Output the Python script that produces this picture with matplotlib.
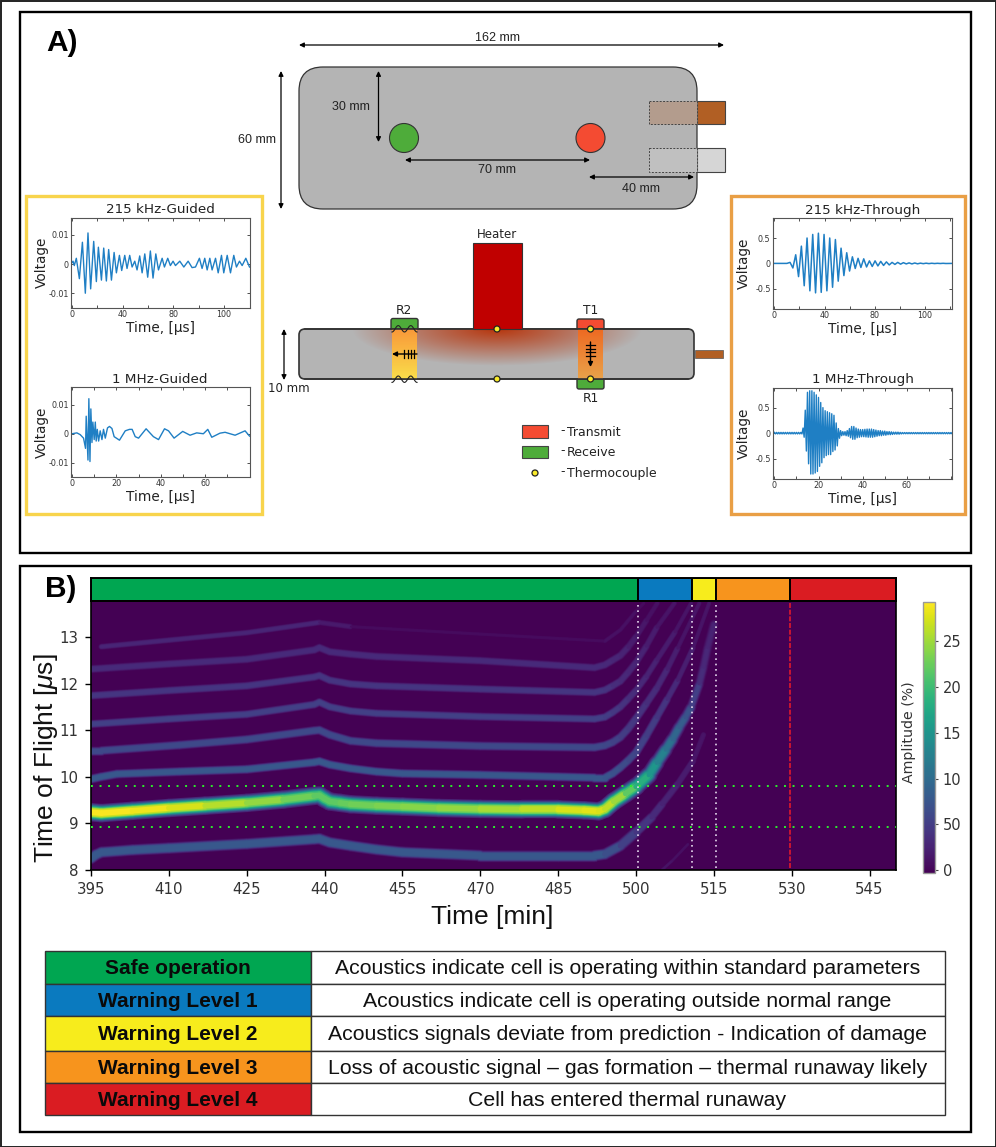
import numpy as np
import matplotlib
matplotlib.use('Agg')
import matplotlib.pyplot as plt
from matplotlib.collections import LineCollection
from matplotlib.patches import Rectangle, FancyBboxPatch, Circle
from matplotlib.colors import Normalize
from matplotlib.cm import ScalarMappable

W, H = 996, 1147
plt.rcParams['mathtext.fontset'] = 'custom'
plt.rcParams['mathtext.rm'] = 'Liberation Sans'
plt.rcParams['mathtext.it'] = 'Liberation Sans:italic'
ARIAL = 'Liberation Sans'
DJ = 'DejaVu Sans'

# ---------- waveform data ----------
g215_t = [0,0.8,1.8,3.4,5.8,8.2,10.5,12.6,14.7,17.1,19.2,20.8,23.2,25,27.1,28.9,31.1,33.2,35,37.4,39.2,41.6,43.4,45.5,47.4,49.5,51.3,53.4,55.3,57.4,59.7,61.8,63.9,66.1,68.2,71.1,72.9,75.5,77.6,79.7,81.6,85,88.2,91.6,94.7,97.4,100.5,102.6,104.7,106.6,108.7,110.5,113.2,115.3,117.9,119.7,122.4,125,127.6,129.7,132.1,134.2,137.1,140]
g215_v = [.0005,.001,-.0005,.002,-.005,.0075,-.010,.0107,-.0085,.0078,-.006,.0058,-.0055,.0055,-.0058,.005,-.0055,.004,-.003,.003,-.0022,.003,-.0015,.003,-.001,.001,-.002,.0028,-.003,.0035,-.0045,.0045,-.0048,.0035,-.002,.002,-.001,.002,-.0005,.001,-.0005,.001,-.001,.001,-.0012,-.001,.002,-.0015,.002,-.002,.002,-.002,.002,-.003,.003,-.003,.003,-.003,.003,-.001,.001,-.0005,.002,-.001]
g1m_t = [0,2.2,3.7,5.2,6.1,6.4,7.2,7.6,8.1,8.5,9,9.4,10,10.5,10.9,11.4,12,12.7,13.5,14.2,15,16,16.9,18,19,21.4,24,25.9,27.1,28.5,30,33.4,36.7,39,41.7,43.5,46,49.9,53.2,56.2,59.2,61.2,63,66.7,69,73.5,78,80]
g1m_v = [0,.0003,-.0003,-.0015,-.005,.006,-.009,.012,-.0095,.0085,-.003,.004,-.002,.004,-.0025,.0015,-.0025,.001,-.002,.0015,-.0015,.002,.0025,.0018,-.001,-.0022,.001,.0015,.0015,-.001,-.0015,.0017,-.001,-.002,.0017,.001,-.0015,.0008,-.0005,.0003,0,.0015,-.0012,.0002,.0005,-.0005,.001,-.0008]
t215_lead = [0.0, 0.0]
t215_v = [.02,-.09,.17,-.26,.34,-.44,.50,-.54,.57,-.58,.595,-.57,.57,-.54,.50,-.47,.47,-.35,.30,-.24,.21,-.15,.13,-.10,.10,-.08,.09,-.07,.05,-.06,.05,-.05,.04,-.04,.03,-.03,.02,-.02,.02,-.015,.015,-.01,.01,-.01,.008,-.008,.005,-.005,.004,-.004,.003,-.003,.002,-.002,.002,-.002,0.0]
t1m_pos = [.015]*13 + [.1,.45,.8,.83,.83,.8,.75,.70,.6,.5,.44,.42,.40,.38,.35,.2,.09,.05,.03,.03,.05,.09,.13,.13,.1,.08,.07,.07,.075,.08,.08,.08,.07,.06,.05,.05,.04,.04,.03,.03,.025,.02,.02,.02,.015] + [.012]*23
t1m_neg = [.015]*13 + [.08,.35,.6,.8,.8,.78,.75,.65,.58,.48,.44,.42,.42,.36,.33,.25,.1,.05,.04,.05,.06,.09,.12,.12,.09,.08,.07,.07,.075,.08,.08,.08,.07,.06,.05,.05,.04,.04,.03,.03,.025,.02,.02,.02,.015] + [.012]*23

# ---------- heat-map ridges: (time [min], time of flight [us], amplitude [%]) ----------
main_t   = [395,397,403,410,417,425,432,438,439,440,441,443,445,450,455,462,470,478,485,490,492.8,494,495.7,498,500,502.5,504,505.7,507,508.3,509.5,510.6,512.2,513,513.8,515]
main_tof = [9.24,9.22,9.27,9.33,9.38,9.44,9.51,9.59,9.60,9.53,9.47,9.44,9.41,9.38,9.36,9.33,9.31,9.30,9.30,9.28,9.26,9.31,9.47,9.64,9.79,10.04,10.30,10.58,10.8,11.06,11.27,11.49,11.99,12.35,12.77,13.27]
main_amp = [29,29,29,28,27,25,24,22,22,22,22,22,23,23,24,24,25,26,27,28,28,27,26,24,20,17,14,12,10,9,8,7,4,3.5,3,2.5]

b0_t   = [395,396,397,403,410,425,438,439,441,445,450,455,470,485,492,494,497,500,503,505,508,511,513]
b0_tof = [8.25,8.33,8.38,8.43,8.47,8.56,8.66,8.67,8.59,8.52,8.44,8.38,8.31,8.31,8.31,8.34,8.52,8.81,9.13,9.41,9.84,10.34,10.9]
b0_amp = [8,8,8,8,8,8,8,8,8,8,8,8,8,8,8,8,6,5,4,3,2.5,2,1]
b1_t   = [395,397,400,412,425,438,439,441,445,450,455,470,485,492,494,495.5,497,498.5,500,502,504,506,508,511,514.1]
b1_tof = [9.95,10.0,10.06,10.11,10.16,10.31,10.33,10.26,10.18,10.11,10.07,10.04,10.0,9.98,9.98,10.07,10.2,10.35,10.52,10.88,11.27,11.66,12.06,12.77,13.72]
b1_amp = [8,8,8,8,8,8,8,8,8,8,8,8,8,8,8,7.5,7,6.5,6,5.5,5,4,3,2,1]
b2_t   = [395,397,412,425,438,439,441,445,450,470,492,494,495.5,497,498.5,500,502,504,506,508,512.2]
b2_tof = [10.56,10.56,10.68,10.8,10.99,11.0,10.9,10.77,10.72,10.66,10.63,10.67,10.74,10.85,11.03,11.25,11.57,11.9,12.3,12.75,13.72]
b2_amp = [6.5,6.5,6.5,6.5,6.5,6.5,6.5,6.5,6.5,6.5,6.5,6.5,6,5.5,5,4.5,4,3.5,3,2,1]
b3_t   = [395,410,425,438,439,441,445,450,470,492,494,495.5,497,498.5,500,502,504,507.5,510.6]
b3_tof = [11.13,11.24,11.34,11.55,11.6,11.5,11.41,11.36,11.29,11.24,11.28,11.38,11.5,11.67,11.85,12.15,12.5,13.1,13.72]
b3_amp = [5.5,5.5,5.5,5.5,5.5,5.5,5.5,5.5,5.5,5.5,5.5,5,4.5,4,3.5,3,2.5,2,1]
b4_t   = [395,410,425,438,439,441,445,450,470,492,494,495.5,497,498.5,500,502,504,507.4]
b4_tof = [11.74,11.85,11.95,12.14,12.17,12.07,11.99,11.95,11.88,11.81,11.86,11.95,12.05,12.24,12.45,12.8,13.2,13.72]
b4_amp = [4.5,4.5,4.5,4.5,4.5,4.5,4.5,4.5,4.5,4.5,4.5,4,3.5,3.2,3,2.5,2,1]
b5_t   = [395,410,425,438,439,441,445,450,470,492,494,495.5,497,498.5,500,502,504.1]
b5_tof = [12.31,12.42,12.52,12.72,12.77,12.68,12.63,12.58,12.49,12.34,12.4,12.5,12.6,12.78,13.0,13.35,13.72]
b5_amp = [3.5,3.5,3.5,3.5,3.5,3.5,3.5,3.5,3.5,3.5,3.5,3.2,3,2.5,2,1.5,1]
b6_t   = [397,410,425,439,445,470,494,497,500,501.5]
b6_tof = [12.79,12.93,13.09,13.31,13.22,13.06,12.91,13.15,13.55,13.72]
b6_amp = [3,3,3,3,1,.8,1,1.5,1,.8]
b7_t   = [505,507,510]
b7_tof = [8.0,8.2,8.55]
b7_amp = [1.5,1.5,1]

stage_edges  = [395, 500.4, 510.8, 515.4, 529.6, 550]
stage_colors = ['#00A651', '#0A7ABF', '#F7EC1C', '#F7941D', '#DA1C22']
level_lines  = [9.81, 8.92]
x_ticks = [395,410,425,440,455,470,485,500,515,530,545]
y_ticks = [8,9,10,11,12,13]
cbar_ticks = [0,5,10,15,20,25]
cbar_labels = ['0','50','10','15','20','25']

table_left  = ['Safe operation','Warning Level 1','Warning Level 2','Warning Level 3','Warning Level 4']
table_right = ['Acoustics indicate cell is operating within standard parameters',
               'Acoustics indicate cell is operating outside normal range',
               'Acoustics signals deviate from prediction - Indication of damage',
               'Loss of acoustic signal \u2013 gas formation \u2013 thermal runaway likely',
               'Cell has entered thermal runaway']
table_y = [951, 983.5, 1016, 1050.5, 1083, 1115]

fig = plt.figure(figsize=(W/100, H/100), dpi=100, facecolor='white')

def px_axes(l, t, r, b, **kw):
    return fig.add_axes([l/W, 1-b/H, (r-l)/W, (b-t)/H], **kw)

bg = fig.add_axes([0, 0, 1, 1], zorder=0)
bg.set_axis_off()

def rect(x0, y0, x1, y1, fc='none', ec='black', lw=1, ls='-', z=2):
    p = Rectangle((x0, y0), x1-x0, y1-y0, fc=fc, ec=ec, lw=lw, ls=ls, zorder=z)
    bg.add_patch(p)
    return p

def rrect(x0, y0, x1, y1, r, fc, ec='#333333', lw=1, z=2):
    p = FancyBboxPatch((x0+r, y0+r), x1-x0-2*r, y1-y0-2*r, boxstyle=f'round,pad={r},rounding_size={r}',
                       fc=fc, ec=ec, lw=lw, zorder=z)
    bg.add_patch(p)
    return p

def txt(x, y, s, size=9, fam=ARIAL, color='#222222', weight='normal', ha='center', rot=0, z=8):
    bg.text(x, y, s, fontsize=size, family=fam, color=color, fontweight=weight, ha=ha, va='center', rotation=rot, zorder=z)

def darrow(x0, y0, x1, y1, style='<|-|>', lw=0.9, ms=7, z=6):
    bg.annotate('', xy=(x1, y1), xytext=(x0, y0), zorder=z,
                arrowprops=dict(arrowstyle=style, lw=lw, color='black', mutation_scale=ms, shrinkA=0, shrinkB=0))

# frames
rect(0.5, 0.5, W-0.5, H-0.5, ec='#222222', lw=1.4)
rect(19.5, 11.5, 971, 553, lw=1.7)
rect(19.5, 566, 971, 1131.5, lw=1.7)
rect(26, 195.5, 261.5, 514, ec='#F8D44C', lw=2.4)
rect(730.5, 195.5, 965, 514, ec='#E99F45', lw=2.4)
txt(46, 43, 'A)', size=21.5, weight='bold', color='black', ha='left')
txt(45, 589, 'B)', size=21.5, weight='bold', color='black', ha='left')

# top view
GREY = '#B4B4B4'
rrect(299, 67, 697, 209, 24, GREY, lw=0.9)
rect(697, 100.7, 724.7, 124, fc='#B15F24', ec='#444444', lw=0.8)
rect(649, 100.7, 697, 124, fc='#B39C8D', ec='#444444', lw=0.7, ls=(0, (2, 1.5)))
rect(697, 148, 724.7, 172, fc='#D6D6D6', ec='#444444', lw=0.8)
rect(649, 148, 697, 172, fc='#C0C0C0', ec='#444444', lw=0.7, ls=(0, (2, 1.5)))
bg.add_patch(Circle((404, 138), 14.5, fc='#4EAC3A', ec='#333333', lw=0.8, zorder=3))
bg.add_patch(Circle((590.5, 138), 14.5, fc='#F44B32', ec='#333333', lw=0.8, zorder=3))
darrow(299, 45, 724, 45)
darrow(281, 71, 281, 209)
darrow(378.5, 71, 378.5, 142)
darrow(405, 160, 590, 160)
darrow(589, 177, 694, 177)
txt(497.5, 38, '162 mm', 9)
txt(257, 140, '60 mm', 9)
txt(351, 106.5, '30 mm', 9)
txt(497, 170, '70 mm', 9)
txt(641, 189, '40 mm', 9)

# side view
rect(695, 350, 723, 358, fc='#B15F24', ec='#555555', lw=0.5)
body = rrect(299, 329, 694, 379, 6, GREY, ec='#333333', lw=1.2, z=2)
rrect(391, 318.5, 418, 332, 2, '#4EAC3A', z=1.5)
rrect(577, 319, 604, 332, 2, '#F44B32', z=1.5)
rrect(577, 376, 604, 389, 2, '#4EAC3A', z=1.5)
# heat glow under the heater
gx, gy = np.meshgrid(np.linspace(345, 650, 305), np.linspace(329, 379, 50))
r = np.sqrt(((gx-497)/145)**2 + ((gy-329)/37)**2)
rgba = np.zeros(gx.shape + (4,))
rgba[..., :3] = np.array([0.72, 0.20, 0.04])
rgba[..., 3] = np.clip(1-r, 0, 1)**0.95 * 0.98
im = bg.imshow(rgba, extent=(345, 650, 379, 329), aspect='auto', zorder=2.2, interpolation='bilinear')
im.set_clip_path(body)
# acoustic paths
def vgrad(x0, x1, c0, c1):
    c0 = np.array(matplotlib.colors.to_rgb(c0)); c1 = np.array(matplotlib.colors.to_rgb(c1))
    a = np.linspace(0, 1, 50)[:, None, None]
    bg.imshow(c0*(1-a)+c1*a, extent=(x0, x1, 379, 329.5), aspect='auto', zorder=2.4)
vgrad(392, 417, '#F9993A', '#F9DD4A')
vgrad(578, 603, '#EE6A22', '#E9A24A')
bg.plot([305, 688], [329, 329], color='#333333', lw=1.2, zorder=2.5)
bg.plot([305, 688], [379, 379], color='#333333', lw=1.2, zorder=2.5)
rect(473, 243, 522, 329, fc='#C00000', ec='#333333', lw=0.8, z=3)
sx = np.linspace(392, 417, 60)
bg.plot(sx, 329+3.2*np.cos((sx-404.5)/12.5*2*np.pi)*1.0-0.2, color='#222222', lw=0.8, zorder=4)
bg.plot(sx, 379+3.2*np.cos((sx-404.5)/12.5*2*np.pi)*1.0+0.2, color='#222222', lw=0.8, zorder=4)
for (cx, cy) in [(497, 329), (590.5, 329), (497, 379), (590.5, 379)]:
    bg.add_patch(Circle((cx, cy), 3, fc='#FAEB2A', ec='#222222', lw=0.9, zorder=5))
darrow(417, 354, 392, 354, style='-|>', lw=1.0, ms=7)
darrow(590.5, 342, 590.5, 367, style='-|>', lw=1.0, ms=7)
for hx in [404, 407.5, 411, 414]:
    bg.plot([hx, hx], [350, 358], color='black', lw=0.9, zorder=6)
for hy in [345, 348.5, 352, 355.5]:
    bg.plot([586, 595], [hy, hy], color='black', lw=0.9, zorder=6)
darrow(284, 329, 284, 380)
txt(289, 388, '10 mm', 8.5, fam=DJ)
txt(497, 235, 'Heater', 8.5, fam=DJ)
txt(404, 310, 'R2', 8.8, fam=DJ)
txt(591, 310, 'T1', 8.8, fam=DJ)
txt(591, 399, 'R1', 8.8, fam=DJ)
rect(521.5, 424.5, 548, 437.5, fc='#F44B32', ec='#444444', lw=0.8)
rect(521.5, 445.5, 548, 458, fc='#4EAC3A', ec='#444444', lw=0.8)
bg.add_patch(Circle((535, 473), 3, fc='#FAEB2A', ec='#222222', lw=0.9, zorder=5))
for yy, label in [(432, 'Transmit'), (452, 'Receive'), (473, 'Thermocouple')]:
    txt(560, yy-1, '-', 9, fam=DJ, ha='left')
    txt(567, yy, label, 9, fam=DJ, ha='left')

# table
for i in range(5):
    y0, y1 = table_y[i], table_y[i+1]
    rect(45, y0, 311, y1, fc=stage_colors[i], ec='#333333', lw=1)
    rect(311, y0, 944.5, y1, fc='white', ec='#333333', lw=1)
    txt(178, (y0+y1)/2+1.5, table_left[i], 15, weight='bold', color='#0a0a0a')
    txt(627.5, (y0+y1)/2+1.5, table_right[i], 15.3, color='#111111')

bg.set_xlim(0, W)
bg.set_ylim(H, 0)

# waveform panels
LINE = '#1F7FC4'
def wave(box, t, v, xlim, ylim, xticks, xlabels, yticks, ylabels, title, lw=1.0):
    ax = px_axes(*box, zorder=3)
    ax.plot(t, v, color=LINE, lw=lw)
    ax.set_xlim(*xlim); ax.set_ylim(*ylim)
    ax.set_xticks(xticks); ax.set_xticklabels(xlabels)
    ax.set_yticks(yticks); ax.set_yticklabels(ylabels)
    ax.tick_params(direction='in', length=2, width=0.6, labelsize=5.8, top=True, right=True, colors='#333333', pad=1.5)
    for s in ax.spines.values():
        s.set_color('#555555'); s.set_linewidth(0.8)
    ax.set_title(title, fontsize=9.7, family=DJ, pad=3, color='#222222')
    ax.set_xlabel('Time, [\u00b5s]', fontsize=9.8, labelpad=1.5, color='#222222')
    ax.set_ylabel('Voltage', fontsize=9.8, color='#222222')
    ax.yaxis.set_label_coords(-22/(box[2]-box[0]), 0.5)
    return ax

wave((71, 217.5, 249.5, 307.5), g215_t, g215_v, (-0.8, 140), (-0.0149, 0.016),
     list(range(0, 141, 20)), ['0', '', '40', '', '80', '', '100', ''],
     [-0.01, 0, 0.01], ['-0.01', '0', '0.01'], '215 kHz-Guided')
wave((71, 387, 249.5, 477), g1m_t, g1m_v, (-0.45, 80), (-0.0148, 0.016),
     list(range(0, 81, 10)), ['0', '', '20', '', '40', '', '60', '', ''],
     [-0.01, 0, 0.01], ['-0.01', '0', '0.01'], '1 MHz-Guided')
t215_t = [0.0, 10.0] + [12.5 + 2.255*k for k in range(len(t215_v)-1)] + [141.6]
wave((772.7, 218, 952.3, 308.5), t215_t, t215_lead + t215_v, (-1.3, 141.6), (-0.888, 0.894),
     list(range(0, 141, 20)), ['0', '', '40', '', '80', '', '100', ''],
     [-0.5, 0, 0.5], ['-0.5', '0', '0.5'], '215 kHz-Through', lw=1.1)
t1_t, t1_v = [], []
for k in range(len(t1m_pos)):
    t1_t += [k, k+0.5]
    t1_v += [t1m_pos[k], -t1m_neg[k]]
wave((772.7, 387.5, 952.3, 478.5), t1_t, t1_v, (-0.75, 80.6), (-0.888, 0.894),
     list(range(0, 81, 10)), ['0', '', '20', '', '40', '', '60', '', ''],
     [-0.5, 0, 0.5], ['-0.5', '0', '0.5'], '1 MHz-Through', lw=1.0)

# heat map panel
cmap = plt.get_cmap('viridis')
norm = Normalize(0, 29.3)
hm = px_axes(91, 601, 895.5, 870, zorder=3)
hm.set_facecolor(cmap(0.0))
hm.set_xlim(395, 550); hm.set_ylim(8, 13.77)

def ridge(t, tof, amp, core_px, sigma_px):
    pts = np.column_stack([t, tof])
    segs = np.stack([pts[:-1], pts[1:]], axis=1)
    amps = (np.array(amp[:-1]) + np.array(amp[1:])) / 2
    for f in [0.1, 0.16, 0.22, 0.3, 0.38, 0.46, 0.54, 0.62, 0.7, 0.78, 0.86, 0.93, 1.0]:
        half = core_px + sigma_px*np.sqrt(-2*np.log(f))
        lw = 2*half*0.72*np.clip(amps/np.max(amps)/0.7, 0.3, 1)**0.5
        hm.add_collection(LineCollection(segs, linewidths=lw, colors=cmap(norm(f*amps)),
                                         capstyle='round', joinstyle='round', zorder=2))

ridge(b7_t, b7_tof, b7_amp, 0.6, 0.6)
ridge(b6_t, b6_tof, b6_amp, 1.2, 1.0)
ridge(b5_t, b5_tof, b5_amp, 1.8, 1.2)
ridge(b4_t, b4_tof, b4_amp, 1.8, 1.2)
ridge(b3_t, b3_tof, b3_amp, 1.8, 1.2)
ridge(b2_t, b2_tof, b2_amp, 2.0, 1.3)
ridge(b1_t, b1_tof, b1_amp, 2.0, 1.3)
ridge(b0_t, b0_tof, b0_amp, 2.8, 1.5)
ridge(main_t, main_tof, main_amp, 2.8, 3.0)

for yl in level_lines:
    hm.axhline(yl, color='#2BF02B', lw=1.4, ls=(0, (1, 3.4)), zorder=4)
for xl in stage_edges[1:4]:
    hm.plot([xl, xl], [8.05, 13.77], color='#E4D8EC', lw=1.2, ls=(0, (1, 2.2)), zorder=5)
hm.plot([stage_edges[4]]*2, [8.05, 13.77], color='#E0192C', lw=1.2, ls=(0, (3, 1)), zorder=5)
hm.set_xlim(395, 550); hm.set_ylim(8, 13.77)
hm.set_xticks(x_ticks); hm.set_yticks(y_ticks)
hm.tick_params(length=4, width=1, labelsize=10.8, labelcolor='#333333', pad=5)
for s in hm.spines.values():
    s.set_linewidth(1.2)
hm.set_xlabel('Time [min]', fontsize=19, family=ARIAL, color='#111111')
hm.xaxis.set_label_coords((492-91)/804.5, -(905-870)/269)
hm.set_ylabel('Time of Flight [$\\mu$s]', fontsize=19, family=ARIAL, color='#111111')
hm.yaxis.set_label_coords((60-91)/804.5, (870-758)/269)

# stage bar
st = px_axes(91, 577.5, 895.5, 600.5, zorder=3)
st.barh([0]*5, np.diff(stage_edges), left=stage_edges[:-1], height=1, color=stage_colors, edgecolor='black', linewidth=1.4)
st.set_xlim(395, 550); st.set_ylim(-0.5, 0.5)
st.set_xticks([]); st.set_yticks([])
for s in st.spines.values():
    s.set_linewidth(1.4)

# colour bar
ca = px_axes(923, 602, 935, 873, zorder=3)
cb = fig.colorbar(ScalarMappable(norm=Normalize(-0.3, 29.3), cmap=cmap), cax=ca)
cb.set_ticks(cbar_ticks); cb.set_ticklabels(cbar_labels)
cb.ax.tick_params(length=2.5, width=0.8, labelsize=10.5, labelcolor='#333333', pad=3, color='#444444')
cb.outline.set_edgecolor('#999999'); cb.outline.set_linewidth(1)
cb.set_label('Amplitude (%)', fontsize=10.2, family=DJ, color='#333333')
ca.yaxis.set_label_position('left')
ca.yaxis.set_label_coords((916-923)/12, (873-732)/271)

fig.savefig('out.png', dpi=100, facecolor='white')
